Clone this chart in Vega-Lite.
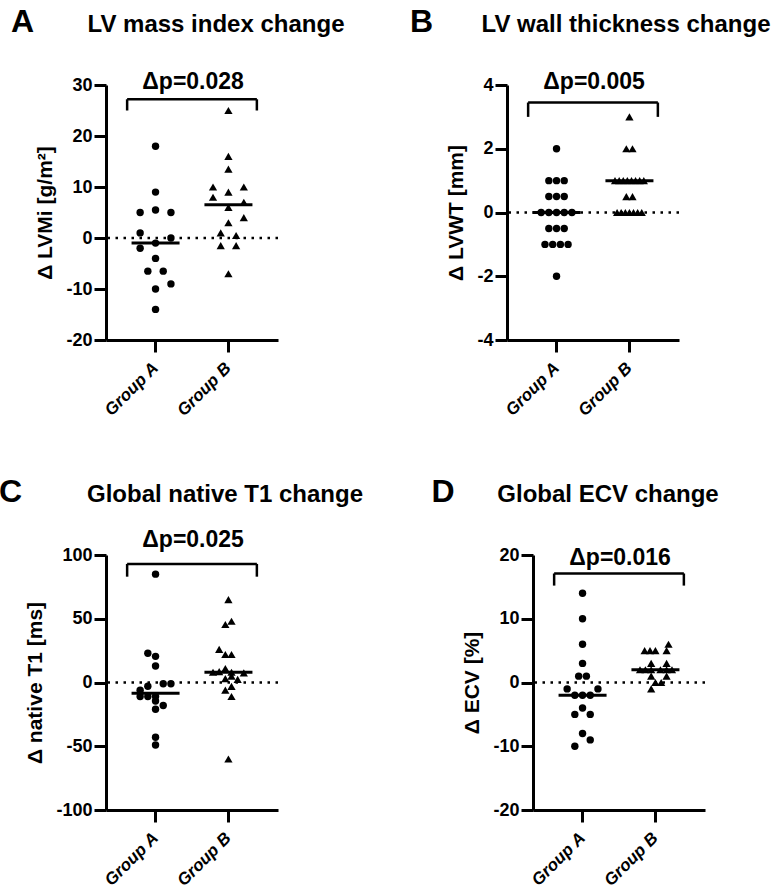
{
"$schema":"https://vega.github.io/schema/vega-lite/v6.json",
"padding":{"left":-2,"top":5,"right":0,"bottom":0},
"config":{"view":{"stroke":null},"font":"Liberation Sans",
 "axis":{"domainColor":"black","domainWidth":3,"tickColor":"black","tickWidth":3,"tickSize":12,"labelColor":"black","labelFont":"Liberation Sans","labelFontWeight":"bold","labelFontSize":18,"labelPadding":2,"titleFont":"Liberation Sans","titleFontSize":21,"titleFontWeight":"bold","titleColor":"black","titlePadding":10,"grid":false},
 "axisY":{"labelExpr":"'' + datum.value"},
 "axisX":{"labelAngle":-45,"labelFontStyle":"italic","labelFontSize":17,"labelAlign":"right","labelBaseline":"middle","labelPadding":13},
 "title":{"font":"Liberation Sans","fontSize":24,"fontWeight":"bold","color":"black"}},
"datasets":{
 "ptsA":[
  {"group":"Group A","slot":0,"value":18},{"group":"Group A","slot":0,"value":9},{"group":"Group A","slot":-2,"value":5},{"group":"Group A","slot":0,"value":5.5},{"group":"Group A","slot":2,"value":5},{"group":"Group A","slot":-2,"value":1},{"group":"Group A","slot":2,"value":0},{"group":"Group A","slot":0,"value":-1},{"group":"Group A","slot":-2,"value":-2},{"group":"Group A","slot":0,"value":-4},{"group":"Group A","slot":-1,"value":-6.5},{"group":"Group A","slot":1,"value":-6.5},{"group":"Group A","slot":2,"value":-9},{"group":"Group A","slot":0,"value":-10},{"group":"Group A","slot":0,"value":-14},
  {"group":"Group B","slot":0,"value":25},{"group":"Group B","slot":0,"value":16},{"group":"Group B","slot":0,"value":13.5},{"group":"Group B","slot":-2,"value":10},{"group":"Group B","slot":2,"value":10},{"group":"Group B","slot":-2,"value":8},{"group":"Group B","slot":0,"value":9},{"group":"Group B","slot":0,"value":6},{"group":"Group B","slot":2,"value":7},{"group":"Group B","slot":2,"value":4},{"group":"Group B","slot":0,"value":3},{"group":"Group B","slot":-1,"value":1},{"group":"Group B","slot":1,"value":0.5},{"group":"Group B","slot":-1,"value":-1.5},{"group":"Group B","slot":1,"value":-1.5},{"group":"Group B","slot":0,"value":-7}],
 "ptsB":[
  {"group":"Group A","slot":0,"value":2},{"group":"Group A","slot":-1,"value":1},{"group":"Group A","slot":0,"value":1},{"group":"Group A","slot":1,"value":1},{"group":"Group A","slot":-1,"value":0.5},{"group":"Group A","slot":0,"value":0.5},{"group":"Group A","slot":1,"value":0.5},{"group":"Group A","slot":-2,"value":0},{"group":"Group A","slot":-1,"value":0},{"group":"Group A","slot":0,"value":0},{"group":"Group A","slot":1,"value":0},{"group":"Group A","slot":2,"value":0},{"group":"Group A","slot":-1,"value":-0.5},{"group":"Group A","slot":0,"value":-0.5},{"group":"Group A","slot":1,"value":-0.5},{"group":"Group A","slot":-1.5,"value":-1},{"group":"Group A","slot":-0.5,"value":-1},{"group":"Group A","slot":0.5,"value":-1},{"group":"Group A","slot":1.5,"value":-1},{"group":"Group A","slot":0,"value":-2},
  {"group":"Group B","slot":0,"value":3},{"group":"Group B","slot":-0.4,"value":2},{"group":"Group B","slot":0.4,"value":2},{"group":"Group B","slot":-1.87,"value":1},{"group":"Group B","slot":-1.33,"value":1},{"group":"Group B","slot":-0.8,"value":1},{"group":"Group B","slot":-0.27,"value":1},{"group":"Group B","slot":0.27,"value":1},{"group":"Group B","slot":0.8,"value":1},{"group":"Group B","slot":1.33,"value":1},{"group":"Group B","slot":1.87,"value":1},{"group":"Group B","slot":-0.4,"value":0.5},{"group":"Group B","slot":0.4,"value":0.5},{"group":"Group B","slot":-1.6,"value":0},{"group":"Group B","slot":-1.07,"value":0},{"group":"Group B","slot":-0.53,"value":0},{"group":"Group B","slot":0,"value":0},{"group":"Group B","slot":0.53,"value":0},{"group":"Group B","slot":1.07,"value":0},{"group":"Group B","slot":1.6,"value":0}],
 "ptsC":[
  {"group":"Group A","slot":0,"value":85},{"group":"Group A","slot":-1,"value":23},{"group":"Group A","slot":0,"value":20.5},{"group":"Group A","slot":0,"value":13},{"group":"Group A","slot":1,"value":-1},{"group":"Group A","slot":2,"value":-1},{"group":"Group A","slot":-2,"value":-6},{"group":"Group A","slot":-1,"value":-3},{"group":"Group A","slot":-2,"value":-11},{"group":"Group A","slot":-1,"value":-11},{"group":"Group A","slot":0,"value":-11},{"group":"Group A","slot":0,"value":-14.5},{"group":"Group A","slot":1,"value":-18},{"group":"Group A","slot":0,"value":-21},{"group":"Group A","slot":0,"value":-43},{"group":"Group A","slot":0,"value":-49},
  {"group":"Group B","slot":0,"value":65},{"group":"Group B","slot":-0.4,"value":45.5},{"group":"Group B","slot":0.4,"value":48},{"group":"Group B","slot":-1.2,"value":26},{"group":"Group B","slot":-0.4,"value":22},{"group":"Group B","slot":0.4,"value":22},{"group":"Group B","slot":-2,"value":8},{"group":"Group B","slot":-1.2,"value":8.5},{"group":"Group B","slot":-0.4,"value":11},{"group":"Group B","slot":0.4,"value":8},{"group":"Group B","slot":2,"value":7.5},{"group":"Group B","slot":-0.4,"value":3},{"group":"Group B","slot":0.4,"value":5},{"group":"Group B","slot":1.2,"value":2.5},{"group":"Group B","slot":-0.4,"value":-6},{"group":"Group B","slot":0.4,"value":-3},{"group":"Group B","slot":0.4,"value":-11},{"group":"Group B","slot":0,"value":-60}],
 "ptsD":[
  {"group":"Group A","slot":0,"value":14},{"group":"Group A","slot":0,"value":10},{"group":"Group A","slot":0,"value":6},{"group":"Group A","slot":0,"value":3},{"group":"Group A","slot":-0.5,"value":1},{"group":"Group A","slot":0.5,"value":1},{"group":"Group A","slot":-2,"value":-1},{"group":"Group A","slot":2,"value":-1},{"group":"Group A","slot":-1,"value":-2},{"group":"Group A","slot":0,"value":-2},{"group":"Group A","slot":1,"value":-2},{"group":"Group A","slot":0,"value":-4},{"group":"Group A","slot":-1,"value":-5},{"group":"Group A","slot":1,"value":-5},{"group":"Group A","slot":0,"value":-8},{"group":"Group A","slot":1,"value":-9},{"group":"Group A","slot":-1,"value":-10},
  {"group":"Group B","slot":1.7,"value":6},{"group":"Group B","slot":-1.4,"value":5},{"group":"Group B","slot":-0.7,"value":5},{"group":"Group B","slot":0,"value":5},{"group":"Group B","slot":1.45,"value":5},{"group":"Group B","slot":-0.55,"value":3},{"group":"Group B","slot":1.45,"value":3},{"group":"Group B","slot":-2,"value":2},{"group":"Group B","slot":-1.3,"value":2},{"group":"Group B","slot":-0.55,"value":2},{"group":"Group B","slot":0.65,"value":2},{"group":"Group B","slot":1.45,"value":2},{"group":"Group B","slot":2.15,"value":2},{"group":"Group B","slot":-0.55,"value":1},{"group":"Group B","slot":1.45,"value":1},{"group":"Group B","slot":0,"value":0},{"group":"Group B","slot":0.75,"value":0},{"group":"Group B","slot":-0.55,"value":-1}],
 "brA":[{"g1":"Group A","g2":"Group B","top":27.2,"bot":25,"ly":30.6,"label":"Δp=0.028"}],
 "brB":[{"g1":"Group A","g2":"Group B","top":3.45,"bot":3.0,"ly":4.1,"label":"Δp=0.005"}],
 "brC":[{"g1":"Group A","g2":"Group B","top":93,"bot":83,"ly":112,"label":"Δp=0.025"}],
 "brD":[{"g1":"Group A","g2":"Group B","top":17.1,"bot":15.2,"ly":19.6,"label":"Δp=0.016"}]
},
"vconcat":[
 {"hconcat":[
  {"title":{"text":"A","anchor":"start","frame":"bounds","fontSize":32,"dx":-24,"dy":30},
   "vconcat":[{"width":172,"height":255,
    "title":{"text":"LV mass index change","anchor":"middle","frame":"group","dx":24,"offset":34},
    "layer":[
     {"data":{"values":[{}]},"mark":{"type":"rule","strokeDash":[2.5,5.5],"strokeWidth":2.5,"color":"black"},"encoding":{"y":{"datum":0,"type":"quantitative"}}},
     {"data":{"name":"ptsA"},"mark":{"type":"point","filled":true,"opacity":1,"color":"black","strokeWidth":0},"encoding":{
       "x":{"field":"group","type":"nominal","scale":{"domain":["Group A","Group B"],"paddingInner":0.22,"paddingOuter":0.29},"axis":{"title":null}},
       "xOffset":{"field":"slot","type":"quantitative","scale":{"domain":[-3,3],"range":[5.3,51.5]}},
       "y":{"field":"value","type":"quantitative","scale":{"domain":[-20,30],"nice":false,"zero":false},"axis":{"values":[-20,-10,0,10,20,30],"title":"Δ LVMi [g/m²]"}},
       "shape":{"field":"group","type":"nominal","scale":{"domain":["Group A","Group B"],"range":["circle","triangle-up"]},"legend":null},
       "size":{"field":"group","type":"nominal","scale":{"domain":["Group A","Group B"],"range":[55,68]},"legend":null}}},
     {"data":{"name":"ptsA"},"mark":{"type":"tick","color":"black","thickness":3,"size":48},"encoding":{"x":{"field":"group","type":"nominal"},"y":{"aggregate":"median","field":"value","type":"quantitative"}}},
     {"data":{"name":"brA"},"mark":{"type":"rule","color":"black","strokeWidth":2.5},"encoding":{"x":{"field":"g1","type":"nominal","bandPosition":0},"x2":{"field":"g2","bandPosition":1},"y":{"field":"top","type":"quantitative"}}},
     {"data":{"name":"brA"},"mark":{"type":"rule","color":"black","strokeWidth":2.5},"encoding":{"x":{"field":"g1","type":"nominal","bandPosition":0},"y":{"field":"top","type":"quantitative"},"y2":{"field":"bot"}}},
     {"data":{"name":"brA"},"mark":{"type":"rule","color":"black","strokeWidth":2.5},"encoding":{"x":{"field":"g2","type":"nominal","bandPosition":1},"y":{"field":"top","type":"quantitative"},"y2":{"field":"bot"}}},
     {"data":{"name":"brA"},"mark":{"type":"text","fontSize":23,"fontWeight":"bold","color":"black"},"encoding":{"x":{"field":"g1","type":"nominal","bandPosition":1.16},"y":{"field":"ly","type":"quantitative"},"text":{"field":"label"}}}
    ]}]},
  {"title":{"text":"B","anchor":"start","frame":"bounds","fontSize":32,"dx":-36,"dy":30},
   "vconcat":[{"width":172,"height":255,
    "title":{"text":"LV wall thickness change","anchor":"middle","frame":"group","dx":33,"offset":34},
    "layer":[
     {"data":{"values":[{}]},"mark":{"type":"rule","strokeDash":[2.5,5.5],"strokeWidth":2.5,"color":"black"},"encoding":{"y":{"datum":0,"type":"quantitative"}}},
     {"data":{"name":"ptsB"},"mark":{"type":"point","filled":true,"opacity":1,"color":"black","strokeWidth":0},"encoding":{
       "x":{"field":"group","type":"nominal","scale":{"domain":["Group A","Group B"],"paddingInner":0.22,"paddingOuter":0.29},"axis":{"title":null}},
       "xOffset":{"field":"slot","type":"quantitative","scale":{"domain":[-3,3],"range":[-1.6,58.4]}},
       "y":{"field":"value","type":"quantitative","scale":{"domain":[-4,4],"nice":false,"zero":false},"axis":{"values":[-4,-2,0,2,4],"title":"Δ LVWT [mm]"}},
       "shape":{"field":"group","type":"nominal","scale":{"domain":["Group A","Group B"],"range":["circle","triangle-up"]},"legend":null},
       "size":{"field":"group","type":"nominal","scale":{"domain":["Group A","Group B"],"range":[55,68]},"legend":null}}},
     {"data":{"name":"ptsB"},"mark":{"type":"tick","color":"black","thickness":3,"size":48},"encoding":{"x":{"field":"group","type":"nominal"},"y":{"aggregate":"median","field":"value","type":"quantitative"}}},
     {"data":{"name":"brB"},"mark":{"type":"rule","color":"black","strokeWidth":2.5},"encoding":{"x":{"field":"g1","type":"nominal","bandPosition":0},"x2":{"field":"g2","bandPosition":1},"y":{"field":"top","type":"quantitative"}}},
     {"data":{"name":"brB"},"mark":{"type":"rule","color":"black","strokeWidth":2.5},"encoding":{"x":{"field":"g1","type":"nominal","bandPosition":0},"y":{"field":"top","type":"quantitative"},"y2":{"field":"bot"}}},
     {"data":{"name":"brB"},"mark":{"type":"rule","color":"black","strokeWidth":2.5},"encoding":{"x":{"field":"g2","type":"nominal","bandPosition":1},"y":{"field":"top","type":"quantitative"},"y2":{"field":"bot"}}},
     {"data":{"name":"brB"},"mark":{"type":"text","fontSize":23,"fontWeight":"bold","color":"black"},"encoding":{"x":{"field":"g1","type":"nominal","bandPosition":1.16},"y":{"field":"ly","type":"quantitative"},"text":{"field":"label"}}}
    ]}]}
 ],"spacing":64},
 {"hconcat":[
  {"title":{"text":"C","anchor":"start","frame":"bounds","fontSize":32,"dx":-26,"dy":30},
   "vconcat":[{"width":172,"height":255,
    "title":{"text":"Global native T1 change","anchor":"middle","frame":"group","dx":33,"offset":22},
    "layer":[
     {"data":{"values":[{}]},"mark":{"type":"rule","strokeDash":[2.5,5.5],"strokeWidth":2.5,"color":"black"},"encoding":{"y":{"datum":0,"type":"quantitative"}}},
     {"data":{"name":"ptsC"},"mark":{"type":"point","filled":true,"opacity":1,"color":"black","strokeWidth":0},"encoding":{
       "x":{"field":"group","type":"nominal","scale":{"domain":["Group A","Group B"],"paddingInner":0.22,"paddingOuter":0.29},"axis":{"title":null}},
       "xOffset":{"field":"slot","type":"quantitative","scale":{"domain":[-3,3],"range":[-1.6,58.4]}},
       "y":{"field":"value","type":"quantitative","scale":{"domain":[-100,100],"nice":false,"zero":false},"axis":{"values":[-100,-50,0,50,100],"title":"Δ native T1 [ms]"}},
       "shape":{"field":"group","type":"nominal","scale":{"domain":["Group A","Group B"],"range":["circle","triangle-up"]},"legend":null},
       "size":{"field":"group","type":"nominal","scale":{"domain":["Group A","Group B"],"range":[55,68]},"legend":null}}},
     {"data":{"name":"ptsC"},"mark":{"type":"tick","color":"black","thickness":3,"size":48},"encoding":{"x":{"field":"group","type":"nominal"},"y":{"aggregate":"median","field":"value","type":"quantitative"}}},
     {"data":{"name":"brC"},"mark":{"type":"rule","color":"black","strokeWidth":2.5},"encoding":{"x":{"field":"g1","type":"nominal","bandPosition":0},"x2":{"field":"g2","bandPosition":1},"y":{"field":"top","type":"quantitative"}}},
     {"data":{"name":"brC"},"mark":{"type":"rule","color":"black","strokeWidth":2.5},"encoding":{"x":{"field":"g1","type":"nominal","bandPosition":0},"y":{"field":"top","type":"quantitative"},"y2":{"field":"bot"}}},
     {"data":{"name":"brC"},"mark":{"type":"rule","color":"black","strokeWidth":2.5},"encoding":{"x":{"field":"g2","type":"nominal","bandPosition":1},"y":{"field":"top","type":"quantitative"},"y2":{"field":"bot"}}},
     {"data":{"name":"brC"},"mark":{"type":"text","fontSize":23,"fontWeight":"bold","color":"black"},"encoding":{"x":{"field":"g1","type":"nominal","bandPosition":1.16},"y":{"field":"ly","type":"quantitative"},"text":{"field":"label"}}}
    ]}]},
  {"title":{"text":"D","anchor":"start","frame":"bounds","fontSize":32,"dx":-30.5,"dy":30},
   "vconcat":[{"width":172,"height":255,
    "title":{"text":"Global ECV change","anchor":"middle","frame":"group","dx":-11,"offset":39},
    "layer":[
     {"data":{"values":[{}]},"mark":{"type":"rule","strokeDash":[2.5,5.5],"strokeWidth":2.5,"color":"black"},"encoding":{"y":{"datum":0,"type":"quantitative"}}},
     {"data":{"name":"ptsD"},"mark":{"type":"point","filled":true,"opacity":1,"color":"black","strokeWidth":0},"encoding":{
       "x":{"field":"group","type":"nominal","scale":{"domain":["Group A","Group B"],"paddingInner":0.22,"paddingOuter":0.29},"axis":{"title":null}},
       "xOffset":{"field":"slot","type":"quantitative","scale":{"domain":[-3,3],"range":[-2.5,59.3]}},
       "y":{"field":"value","type":"quantitative","scale":{"domain":[-20,20],"nice":false,"zero":false},"axis":{"values":[-20,-10,0,10,20],"title":"Δ ECV [%]"}},
       "shape":{"field":"group","type":"nominal","scale":{"domain":["Group A","Group B"],"range":["circle","triangle-up"]},"legend":null},
       "size":{"field":"group","type":"nominal","scale":{"domain":["Group A","Group B"],"range":[55,68]},"legend":null}}},
     {"data":{"name":"ptsD"},"mark":{"type":"tick","color":"black","thickness":3,"size":48},"encoding":{"x":{"field":"group","type":"nominal"},"y":{"aggregate":"median","field":"value","type":"quantitative"}}},
     {"data":{"name":"brD"},"mark":{"type":"rule","color":"black","strokeWidth":2.5},"encoding":{"x":{"field":"g1","type":"nominal","bandPosition":0},"x2":{"field":"g2","bandPosition":1},"y":{"field":"top","type":"quantitative"}}},
     {"data":{"name":"brD"},"mark":{"type":"rule","color":"black","strokeWidth":2.5},"encoding":{"x":{"field":"g1","type":"nominal","bandPosition":0},"y":{"field":"top","type":"quantitative"},"y2":{"field":"bot"}}},
     {"data":{"name":"brD"},"mark":{"type":"rule","color":"black","strokeWidth":2.5},"encoding":{"x":{"field":"g2","type":"nominal","bandPosition":1},"y":{"field":"top","type":"quantitative"},"y2":{"field":"bot"}}},
     {"data":{"name":"brD"},"mark":{"type":"text","fontSize":23,"fontWeight":"bold","color":"black"},"encoding":{"x":{"field":"g1","type":"nominal","bandPosition":1.16},"y":{"field":"ly","type":"quantitative"},"text":{"field":"label"}}}
    ]}]}
 ],"spacing":67}
],"spacing":56}
